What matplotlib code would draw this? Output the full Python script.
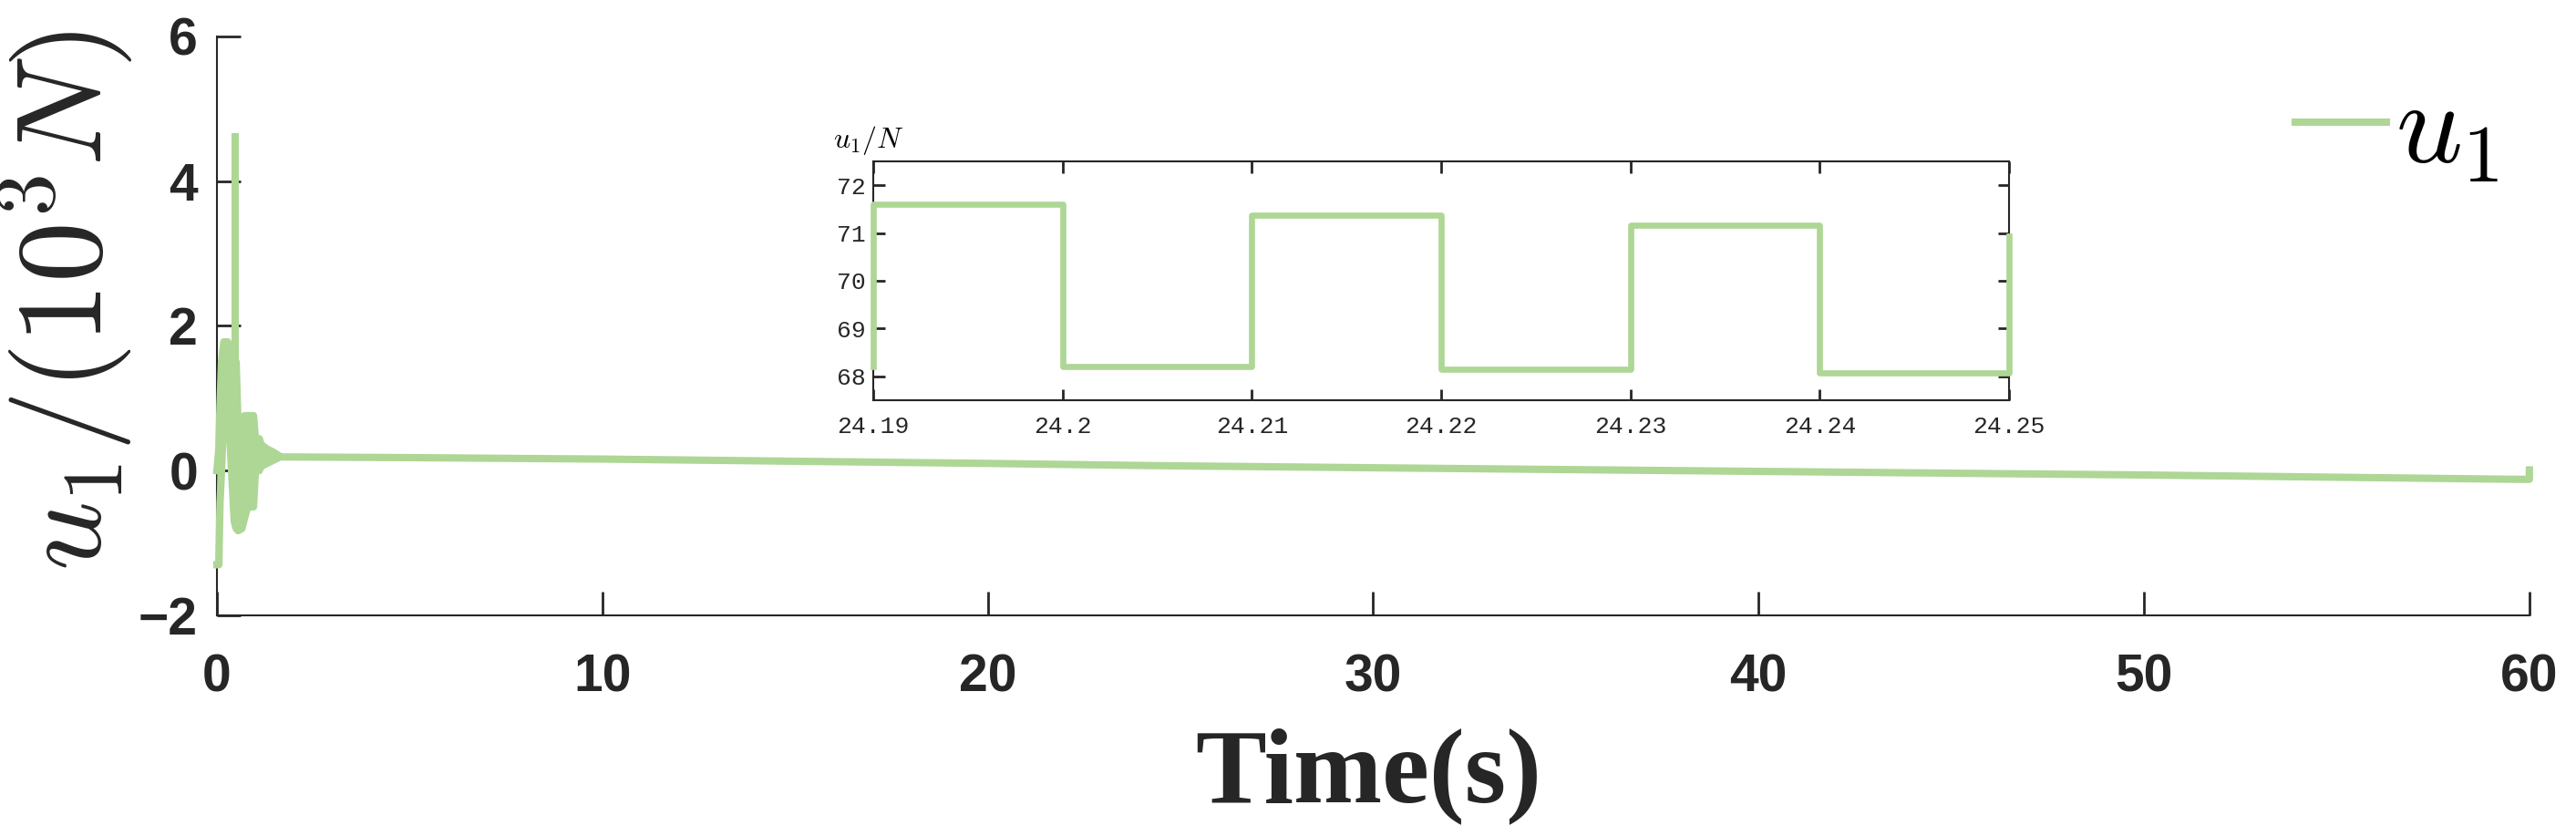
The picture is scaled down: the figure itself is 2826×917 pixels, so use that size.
import matplotlib as mpl
import matplotlib.pyplot as plt

mpl.use("Agg")
plt.rcParams["mathtext.fontset"] = "cm"

GREEN = "#aed695"
DARK = "#262626"

# transient band (chattering envelope)
t_env = [0.00, 0.05, 0.08, 0.12, 0.18, 0.28, 0.33, 0.40, 0.45, 0.50, 0.55, 0.65, 0.72,
         0.80, 0.95, 1.00, 1.10, 1.15, 1.30, 1.45, 1.60]
u_hi = [0.00, 0.30, 0.90, 1.50, 1.78, 1.78, 1.65, 1.20, 1.50, 1.50, 0.60, 0.72, 0.76,
        0.76, 0.76, 0.44, 0.44, 0.36, 0.30, 0.26, 0.21]
u_lo = [-1.30, -1.30, -0.45, 0.00, 0.80, 1.00, 0.50, -0.20, -0.70, -0.80, -0.83, -0.80, -0.65,
        -0.50, -0.50, 0.00, 0.00, 0.06, 0.10, 0.14, 0.18]

# spike
spike_t = 0.47
spike_lo = -0.2
spike_hi = 4.66

# slow drift afterwards
t_main = [1.6, 5, 10, 20, 24.2, 30, 40, 50, 59.7, 60.0, 60.0]
u_main = [0.19, 0.18, 0.16, 0.10, 0.07, 0.04, -0.01, -0.06, -0.12, -0.12, 0.01]

# zoomed window
t_zoom = [24.19, 24.19, 24.20, 24.20, 24.21, 24.21, 24.22, 24.22, 24.23, 24.23,
          24.24, 24.24, 24.25, 24.25]
u_zoom = [68.2, 71.6, 71.6, 68.2, 68.2, 71.38, 71.38, 68.15, 68.15, 71.16, 71.16,
          68.08, 68.08, 70.94]

x_ticks = [0, 10, 20, 30, 40, 50, 60]
y_ticks = [-2, 0, 2, 4, 6]
zx_ticks = [24.19, 24.20, 24.21, 24.22, 24.23, 24.24, 24.25]
zx_labels = ["24.19", "24.2", "24.21", "24.22", "24.23", "24.24", "24.25"]
zy_ticks = [68, 69, 70, 71, 72]

fig = plt.figure(figsize=(28.26, 9.17), dpi=100)
ax = fig.add_axes([0.0842, 0.2639, 0.8977, 0.6925])

ax.fill_between(t_env, u_lo, u_hi, color=GREEN, lw=0, zorder=3, clip_on=False)
ax.plot(t_env, u_hi, color=GREEN, lw=5.8, zorder=3, clip_on=False)
ax.plot(t_env, u_lo, color=GREEN, lw=5.8, zorder=3, clip_on=False)
ax.vlines(spike_t, spike_lo, spike_hi, color=GREEN, lw=5.8, zorder=3)
ax.plot(t_main, u_main, color=GREEN, lw=5.8, zorder=3, clip_on=False, label=r"$u_1$")

ax.set_xlim(0, 60)
ax.set_ylim(-2, 6)
ax.set_xticks(x_ticks)
ax.set_yticks(y_ticks)
for s in ["top", "right"]:
    ax.spines[s].set_visible(False)
for s in ["left", "bottom"]:
    ax.spines[s].set_linewidth(1.5)
    ax.spines[s].set_color(DARK)
ax.tick_params(direction="in", length=19, width=2, color=DARK, labelcolor=DARK)
ax.tick_params(axis="x", pad=30)
ax.tick_params(axis="y", pad=15)
for lab in ax.get_xticklabels() + ax.get_yticklabels():
    lab.set_fontfamily("Liberation Sans")
    lab.set_fontweight("bold")
    lab.set_fontsize(41)

fig.text(72 / 2826, 1 - 330 / 917, r"$u_1/(10^3N)$", rotation=90, ha="center", va="center",
         fontsize=96, color=DARK)
fig.text(1501 / 2826, 1 - 851 / 917, "Time(s)", ha="center", va="center",
         fontsize=84, fontweight="bold", family="Liberation Serif", color=DARK)

fig.legend(loc="center left", bbox_to_anchor=(2518 / 2826, 1 - 143 / 917), frameon=False,
           fontsize=92, handlelength=0.78, handletextpad=0.08, borderpad=0, borderaxespad=0)

# inset
axin = fig.add_axes([0.339, 0.5213, 0.4409, 0.2857])
axin.plot(t_zoom, u_zoom, color=GREEN, lw=4.8, zorder=3, clip_on=False)
axin.set_xlim(24.19, 24.25)
axin.set_ylim(67.5, 72.5)
axin.set_xticks(zx_ticks)
axin.set_xticklabels(zx_labels)
axin.set_yticks(zy_ticks)
for s in axin.spines.values():
    s.set_linewidth(1.5)
    s.set_color(DARK)
axin.tick_params(direction="in", length=9, width=2, color=DARK, labelcolor=DARK,
                 top=True, right=True, labelsize=19, pad=12)
for lab in axin.get_xticklabels() + axin.get_yticklabels():
    lab.set_fontfamily("Liberation Mono")
axin.tick_params(axis="y", pad=6)
axin.text(-0.035, 1.057, r"$u_1/N$", transform=axin.transAxes, ha="left", va="baseline",
          fontsize=23, color="black")

fig.savefig("out.png", dpi=100)
